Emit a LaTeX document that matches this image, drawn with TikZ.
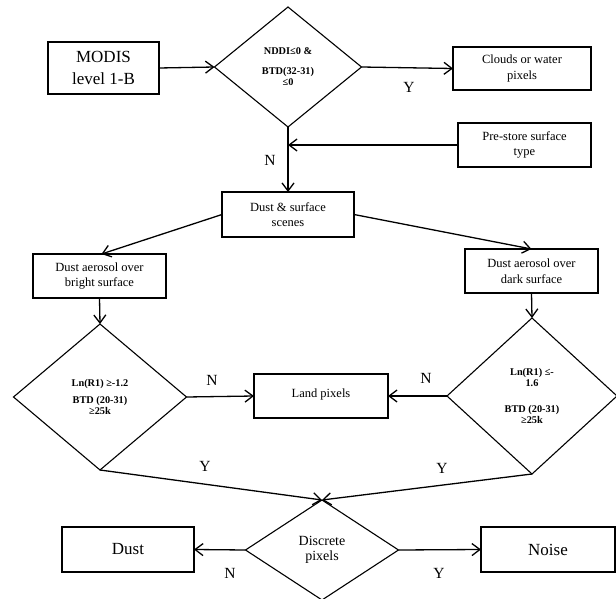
\documentclass[tikz,border=0pt]{standalone}
\usepackage{fontspec}
\setmainfont{Liberation Serif}
\usetikzlibrary{shapes.geometric,arrows.meta}
\begin{document}
\begin{tikzpicture}[x=1pt,y=-1pt,
 box/.style={draw,line width=1.8pt,rectangle,inner sep=0pt,outer sep=0pt,align=center},
 dia/.style={draw,line width=1.1pt,diamond,inner sep=0pt,outer sep=0pt,align=center},
 arr/.style={line width=1.3pt,-{Straight Barb[length=8pt,width=12pt,line width=1.3pt]}},
 lbl/.style={font=\fontsize{15.5}{16}\selectfont,inner sep=0pt},
 small/.style={font=\fontsize{12.5}{15.5}\selectfont},
 mid/.style={font=\fontsize{14}{15}\selectfont},
 big/.style={font=\fontsize{17}{22}\selectfont},
 cond/.style={font=\fontsize{10.3}{11.5}\selectfont\bfseries}]
\useasboundingbox (0,0) rectangle (616,599);

\node[box,big,minimum width=111pt,minimum height=52pt] (modis) at (103.5,68) {MODIS\\level 1-B};
\node[dia,cond,minimum width=147pt,minimum height=120pt] (d1) at (288,67) {NDDI≤0 \&\\[8pt]BTD(32-31)\\≤0};
\node[box,small,minimum width=138pt,minimum height=43pt] (clouds) at (522,68.5) {Clouds or water\\pixels};
\node[box,small,minimum width=133pt,minimum height=44pt] (pre) at (524.5,145) {Pre-store surface\\type};
\node[box,small,minimum width=132pt,minimum height=45pt] (scenes) at (288,214.5) {Dust \& surface\\scenes};
\node[box,small,minimum width=133pt,minimum height=44pt] (bright) at (99.5,276) {Dust aerosol over\\bright surface};
\node[box,small,minimum width=133pt,minimum height=44pt] (dark) at (531.5,271) {Dust aerosol over\\dark surface};
\node[dia,cond,minimum width=173pt,minimum height=146pt] (dl) at (100,397) {Ln(R1) ≥-1.2\\[5pt]BTD (20-31)\\≥25k};
\node[dia,cond,minimum width=170pt,minimum height=156pt] (dr) at (532,396) {Ln(R1) ≤-\\1.6\\[14pt]BTD (20-31)\\≥25k};
\node[box,small,minimum width=134pt,minimum height=44pt] (land) at (321,396) {\raisebox{6pt}{Land pixels}};
\node[dia,mid,minimum width=153pt,minimum height=100pt] (d3) at (322,550) {Discrete\\pixels};
\node[box,big,minimum width=132pt,minimum height=45pt] (dust) at (128,549.5) {Dust};
\node[box,big,minimum width=134pt,minimum height=45pt] (noise) at (548,549.5) {Noise};

\draw[arr] (modis.east) -- (d1.west);
\draw[arr] (d1.east) -- (clouds.west);
\draw[arr] (d1.south) -- (scenes.north);
\draw[arr] (pre.west) -- (d1.south |- pre.west);
\draw[arr] (scenes.west) -- ([xshift=2pt]bright.north);
\draw[arr] (scenes.east) -- (dark.north);
\draw[arr] (bright.south) -- (dl.north);
\draw[arr] (dark.south) -- (dr.north);
\draw[arr] (dl.east) -- (land.west);
\draw[arr] (dr.west) -- (land.east);
\draw[arr] (dl.south) -- (d3.north);
\draw[arr] (dr.south) -- (d3.north);
\draw[arr] (d3.west) -- (dust.east);
\draw[arr] (d3.east) -- (noise.west);

\node[lbl] (y1) at (409,87) {Y};
\node[lbl] (n1) at (270,160) {N};
\node[lbl] (n2) at (212,380) {N};
\node[lbl] (n3) at (426,378) {N};
\node[lbl] (y2) at (205,466) {Y};
\node[lbl] (y3) at (442,468) {Y};
\node[lbl] (n4) at (230,573) {N};
\node[lbl] (y4) at (439,573) {Y};
\end{tikzpicture}
\end{document}
